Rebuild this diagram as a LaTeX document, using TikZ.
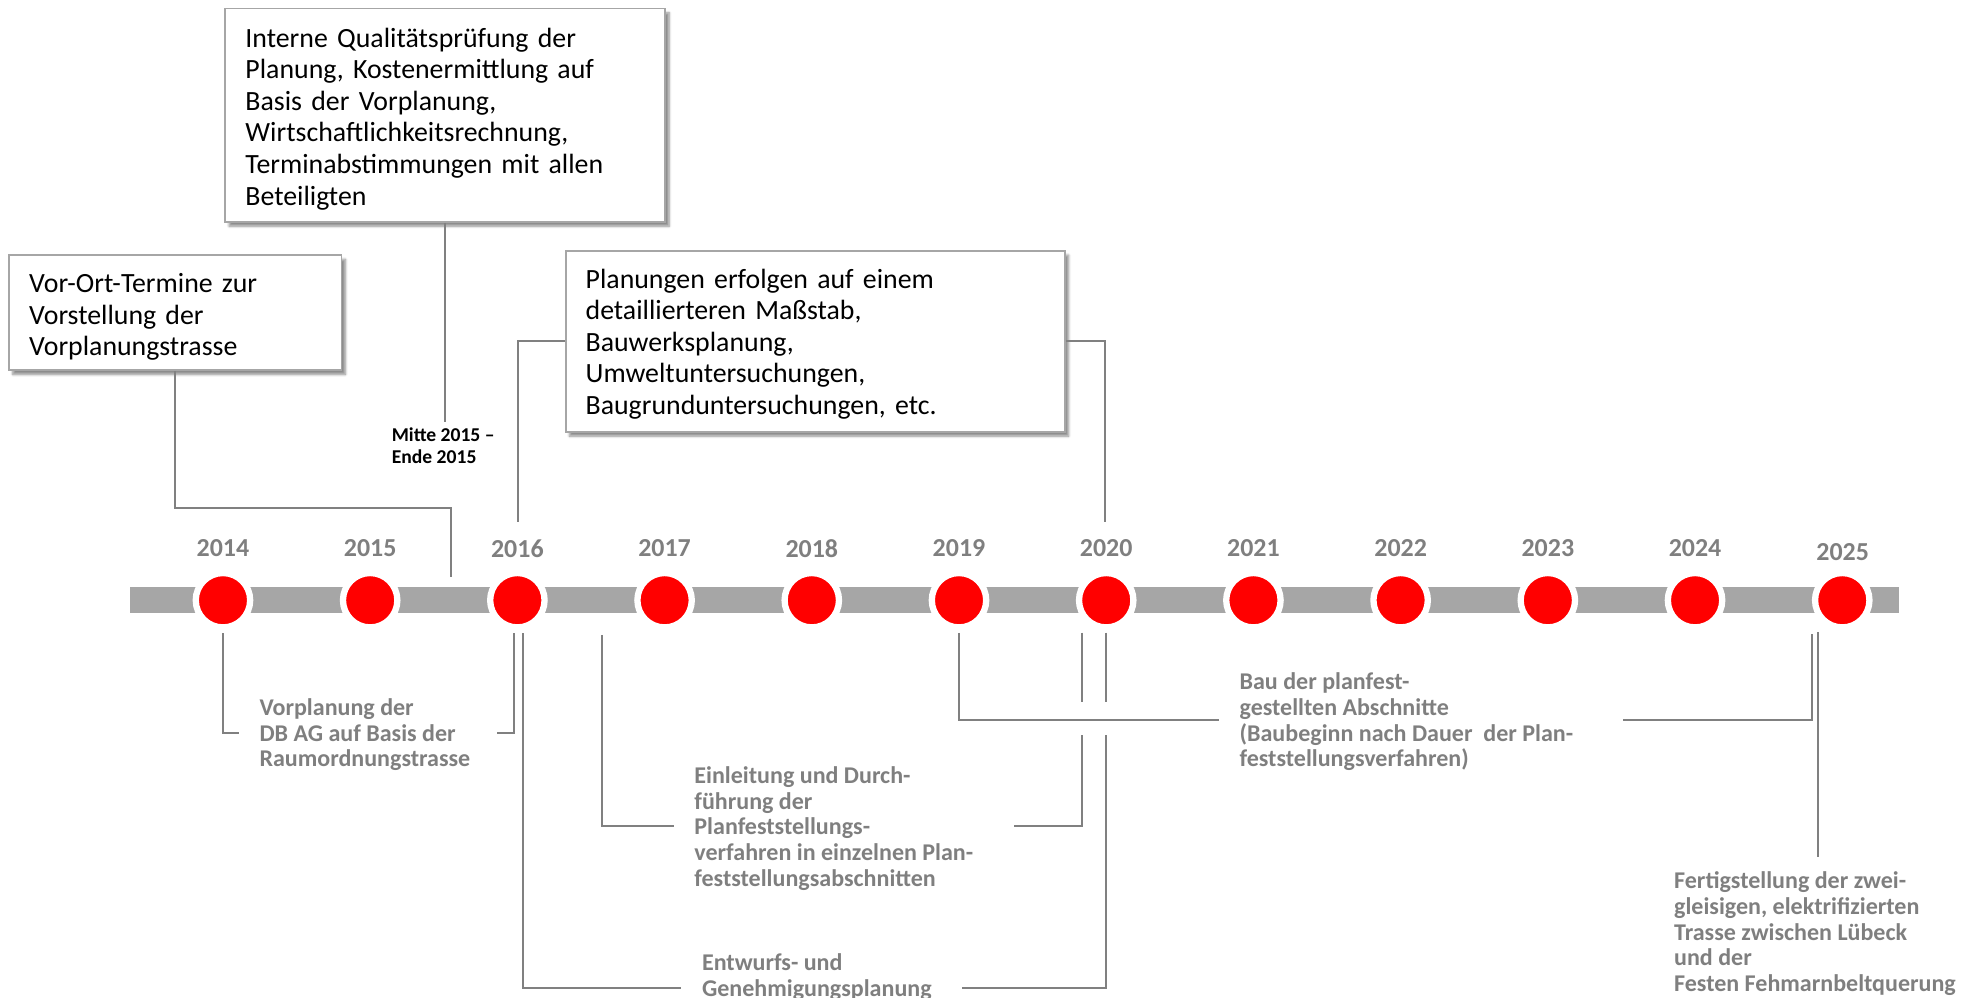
\documentclass[tikz,border=0pt]{standalone}
\usepackage{fontspec}
\setmainfont{Carlito}
\usetikzlibrary{shadows.blur}
\definecolor{txtgray}{HTML}{7F7F7F}
\definecolor{bargray}{HTML}{A6A6A6}
\definecolor{linegray}{HTML}{808080}
\definecolor{boxgray}{HTML}{A6A6A6}
\definecolor{dotred}{HTML}{FF0000}
\begin{document}
\begin{tikzpicture}[x=1pt,y=-1pt,
  infobox/.style={draw=boxgray, line width=1.4pt, fill=white, inner sep=0pt,
    blur shadow={shadow xshift=3pt, shadow yshift=-3.5pt, shadow blur steps=6, shadow opacity=45}},
  infotext/.style={inner xsep=16pt, inner ysep=0pt, font=\fontsize{22}{25}\selectfont, align=left},
  conn/.style={draw=linegray, line width=1.6pt},
  yearlbl/.style={text=txtgray, font=\fontsize{20.5}{22}\selectfont\bfseries, inner sep=0pt},
  graylbl/.style={text=txtgray, font=\fontsize{19}{20.3}\selectfont\bfseries, inner sep=0pt, align=left, anchor=west},
  dot/.style={circle, fill=dotred, draw=white, line width=5pt, minimum size=43pt, inner sep=0pt}
]
\useasboundingbox (0,0) rectangle (1568,789);

% timeline bar
\fill[bargray] (102.4,464.4) rectangle (1501.5,485);

% dots and years
\foreach \y [count=\i from 0] in {2014,2015,2016,2017,2018,2019,2020,2021,2022,2023,2024,2025} {
  \pgfmathsetmacro{\xx}{176.3+116.4*\i}
  \node[dot] (c\y) at (\xx,474.6) {};
}
\foreach \y [count=\i from 0] in {2014,2015,2016,2017,2018,2019,2020,2021,2022,2023,2024} {
  \pgfmathsetmacro{\xx}{176.3+116.4*\i}
  \node[yearlbl] (y\y) at (\xx,433.6) {\y};
}
\node[yearlbl] (y2025) at (1457,436.2) {2025};

% boxes (frames)
\node[infobox, minimum width=263pt, minimum height=91pt] (box1) at (138.6,247.1) {};
\node[infobox, minimum width=348pt, minimum height=168.7pt] (box2) at (352.1,91) {};
\node[infobox, minimum width=394.7pt, minimum height=143.1pt] (box3) at (644.6,269.8) {};
% box texts
\node[infotext, text width=231pt] (box1t) at (138.6,250.6)
  {Vor-Ort-Termine zur\\Vorstellung der\\Vorplanungstrasse};
\node[infotext, text width=316pt] (box2t) at (352.1,94)
  {Interne Qualitätsprüfung der\\Planung, Kostenermittlung auf\\Basis der Vorplanung,\\Wirtschaftlichkeitsrechnung,\\Terminabstimmungen mit allen\\Beteiligten};
\node[infotext, text width=363pt] (box3t) at (644.6,272)
  {Planungen erfolgen auf einem\\detaillierteren Maßstab,\\Bauwerksplanung,\\Umweltuntersuchungen,\\Baugrunduntersuchungen, etc.};

\node[anchor=west, inner sep=0pt, align=left, font=\fontsize{15.5}{17.5}\selectfont\bfseries] (mitte) at (309.6,352.7)
  {Mitte 2015 –\\Ende 2015};

% gray labels
\node[graylbl] (vorpl) at (205,581) {Vorplanung der\\DB AG auf Basis der\\Raumordnungstrasse};
\node[graylbl] (einl) at (548.9,655) {Einleitung und Durch-\\führung der\\Planfeststellungs-\\verfahren in einzelnen Plan-\\feststellungsabschnitten};
\node[graylbl] (entw) at (554.9,772.5) {Entwurfs- und\\Genehmigungsplanung};
\node[graylbl] (bau) at (980,570.8) {Bau der planfest-\\gestellten Abschnitte\\(Baubeginn nach Dauer\ \ der Plan-\\feststellungsverfahren)};
\node[graylbl] (fert) at (1323.6,738.2) {Fertigstellung der zwei-\\gleisigen, elektrifizierten\\Trasse zwischen Lübeck\\und der\\Festen Fehmarnbeltquerung};

% coordinates
\coordinate (k1) at (356.6,402);
\coordinate (k2) at (356.6,456.5);
\coordinate (k3) at (352.1,333.4);
\coordinate (k4) at (409.3,412.8);
\coordinate (k5) at (874,412.5);

\coordinate (a1) at (176.3,500.6);
\coordinate (a2) at (189,579.8);
\coordinate (a3) at (393,579.8);
\coordinate (a4) at (406.6,500.6);

\coordinate (b1) at (475.9,502);
\coordinate (b2) at (533,653.4);
\coordinate (b3) at (802,653.4);
\coordinate (b4) at (855.2,581.2);
\coordinate (b5) at (855.2,500.2);
\coordinate (b6) at (855.2,554.8);

\coordinate (e1) at (413.4,500.6);
\coordinate (e2) at (538.3,781.5);
\coordinate (e3) at (760.7,781.5);
\coordinate (e4) at (874.2,581.2);
\coordinate (e5) at (874.2,500.2);
\coordinate (e6) at (874.2,554.8);

\coordinate (u1) at (758.3,500.5);
\coordinate (u2) at (964.2,569.3);
\coordinate (u3) at (1283.5,569.3);
\coordinate (u4) at (1432.5,501);

\coordinate (f1) at (1437.8,500);
\coordinate (f2) at (1437.8,677.4);

% connectors above
\draw[conn] (box1.south) |- (k1) -- (k2);
\draw[conn] (box2.south) -- (k3);
\draw[conn] (box3.west) -| (k4);
\draw[conn] (box3.east) -| (k5);

% connectors below
\draw[conn] (a1) |- (a2);
\draw[conn] (a3) -| (a4);
\draw[conn] (b1) |- (b2);
\draw[conn] (b3) -| (b4);
\draw[conn] (b5) -- (b6);
\draw[conn] (e1) |- (e2);
\draw[conn] (e3) -| (e4);
\draw[conn] (e5) -- (e6);
\draw[conn] (u1) |- (u2);
\draw[conn] (u3) -| (u4);
\draw[conn] (f1) -- (f2);
\end{tikzpicture}
\end{document}
